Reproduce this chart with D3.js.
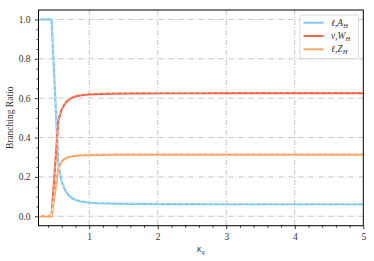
<!DOCTYPE html>
<html><head><meta charset="utf-8">
<script src="https://cdn.jsdelivr.net/npm/d3@7"></script>
<style>body{margin:0;background:#fff}svg{display:block}</style>
</head><body>
<script>
const kappa = [0.26,0.3,0.35,0.4,0.45,0.5,0.55,0.6,0.65,0.7,0.75,0.8,0.85,0.9,1.0,1.1,1.2,1.4,1.6,1.8,2.0,2.5,3.0,3.5,4.0,4.5,5.0];
const nuW   = [0,0,0,0,0,0.245,0.49,0.545,0.575,0.592,0.603,0.609,0.613,0.616,0.619,0.621,0.622,0.623,0.624,0.624,0.625,0.625,0.626,0.626,0.626,0.626,0.626];
const ellZ  = [0,0,0,0,0,0.12,0.245,0.28,0.294,0.301,0.305,0.307,0.309,0.310,0.311,0.312,0.312,0.313,0.313,0.313,0.313,0.313,0.313,0.313,0.313,0.313,0.313];
const ellA  = [1,1,1,1,1,0.635,0.265,0.175,0.131,0.107,0.092,0.084,0.078,0.074,0.070,0.067,0.066,0.064,0.063,0.063,0.062,0.062,0.061,0.061,0.061,0.061,0.061];
const xTicks = [1,2,3,4,5];
const yTicks = [0,0.2,0.4,0.6,0.8,1.0];
const seriesNames = ["ellA","nuW","ellZ"];
const colors = {ellA:"#80c9ea", nuW:"#f3654a", ellZ:"#f6a564"};

const W=374,H=261;
const m={l:38.5,r:363.3,t:10,b:225.7};
const svg=d3.select("body").append("svg").attr("width",W).attr("height",H);
const x=d3.scaleLinear().domain([0.26,5]).range([m.l,m.r]);
const y=d3.scaleLinear().domain([-0.048,1.048]).range([m.b,m.t]);
const font="Liberation Serif, DejaVu Serif, serif";
const fs=9.5;

// grid
const g=svg.append("g");
g.selectAll(".gx").data(xTicks.filter(d=>d<5)).join("line")
 .attr("x1",d=>x(d)).attr("x2",d=>x(d)).attr("y1",m.t).attr("y2",m.b)
 .attr("stroke","#b8b8b8").attr("stroke-width",0.8).attr("stroke-dasharray","5,2,1,2");
g.selectAll(".gy").data(yTicks).join("line")
 .attr("y1",d=>y(d)).attr("y2",d=>y(d)).attr("x1",m.l).attr("x2",m.r)
 .attr("stroke","#b8b8b8").attr("stroke-width",0.8).attr("stroke-dasharray","5,2,1,2");

// lines
const data={ellA,nuW,ellZ};
const line=d3.line().x((d,i)=>x(kappa[i])).y(d=>y(d));
svg.append("clipPath").attr("id","c").append("rect").attr("x",m.l).attr("y",m.t).attr("width",m.r-m.l).attr("height",m.b-m.t);
const lg=svg.append("g").attr("clip-path","url(#c)");
seriesNames.forEach(s=>{
  lg.append("path").datum(data[s]).attr("d",line).attr("fill","none")
    .attr("stroke",colors[s]).attr("stroke-width",2.2).attr("stroke-linejoin","round");
});
seriesNames.forEach(s=>{
  lg.append("path").datum(data[s]).attr("d",line).attr("fill","none")
    .attr("transform","translate(0,-0.8)")
    .attr("stroke","#ffffff").attr("stroke-opacity",0.6).attr("stroke-width",0.9).attr("stroke-dasharray","3,3");
});

// axes
const xa=d3.axisBottom(x).tickValues(xTicks).tickSize(3.5).tickFormat(d3.format("d"));
const xm=d3.axisBottom(x).tickValues(d3.range(0.4,5.0001,0.2).filter(v=>Math.abs(v-Math.round(v))>1e-6)).tickSize(2).tickFormat("");
const ya=d3.axisLeft(y).tickValues(yTicks).tickSize(3.5).tickFormat(d3.format(".1f"));
const ym=d3.axisLeft(y).tickValues(d3.range(-0.0,1.0001,0.05).map(v=>+v.toFixed(2)).filter(v=>Math.abs(v*5-Math.round(v*5))>1e-6)).tickSize(2).tickFormat("");
function style(sel){sel.select(".domain").remove();sel.selectAll("line").attr("stroke","#000").attr("stroke-width",0.8);
 sel.selectAll("text").attr("font-family",font).attr("font-size",fs).attr("fill","#333");}
svg.append("g").attr("transform",`translate(0,${m.b})`).call(xa).call(style).selectAll("text").attr("dy","0.85em");
svg.append("g").attr("transform",`translate(0,${m.b})`).call(xm).call(style);
svg.append("g").attr("transform",`translate(${m.l},0)`).call(ya).call(style).selectAll("text").attr("dx","-0.15em");
svg.append("g").attr("transform",`translate(${m.l},0)`).call(ym).call(style);
svg.append("rect").attr("x",m.l).attr("y",m.t).attr("width",m.r-m.l).attr("height",m.b-m.t)
 .attr("fill","none").attr("stroke","#000").attr("stroke-width",1);

// labels
svg.append("text").attr("transform",`translate(12.5,${(m.t+m.b)/2}) rotate(-90)`).attr("text-anchor","middle")
 .attr("font-family",font).attr("font-size",fs).attr("fill","#333").text("Branching Ratio");
const xl=svg.append("text").attr("x",(m.l+m.r)/2).attr("y",252).attr("text-anchor","middle")
 .attr("font-family",font).attr("font-size",fs).attr("fill","#333").attr("font-style","italic");
xl.append("tspan").text("κ");
xl.append("tspan").attr("font-size",6.5).attr("dy",1.8).text("q");

// legend
const leg=svg.append("g");
leg.append("rect").attr("x",300).attr("y",15).attr("width",58.5).attr("height",43.5).attr("rx",2)
 .attr("fill","#fff").attr("fill-opacity",0.85).attr("stroke","#d0d0d0").attr("stroke-width",0.8);
const labels=[["ℓ",",","A","H"],["ν",",","W","H"],["ℓ",",","Z","H"]];
seriesNames.forEach((s,i)=>{
  const yy=22.7+i*13.3;
  leg.append("line").attr("x1",303.5).attr("x2",323.5).attr("y1",yy).attr("y2",yy).attr("stroke",colors[s]).attr("stroke-width",2);
  const t=leg.append("text").attr("x",331).attr("y",yy+3).attr("font-family",font).attr("font-size",fs).attr("fill","#333");
  const L=labels[i];
  t.append("tspan").attr("font-style","italic").text(L[0]);
  t.append("tspan").text(L[1]);
  t.append("tspan").attr("font-style","italic").text(L[2]);
  t.append("tspan").attr("font-style","italic").attr("font-size",6.5).attr("dy",1.8).text(L[3]);
});
</script>
</body></html>
